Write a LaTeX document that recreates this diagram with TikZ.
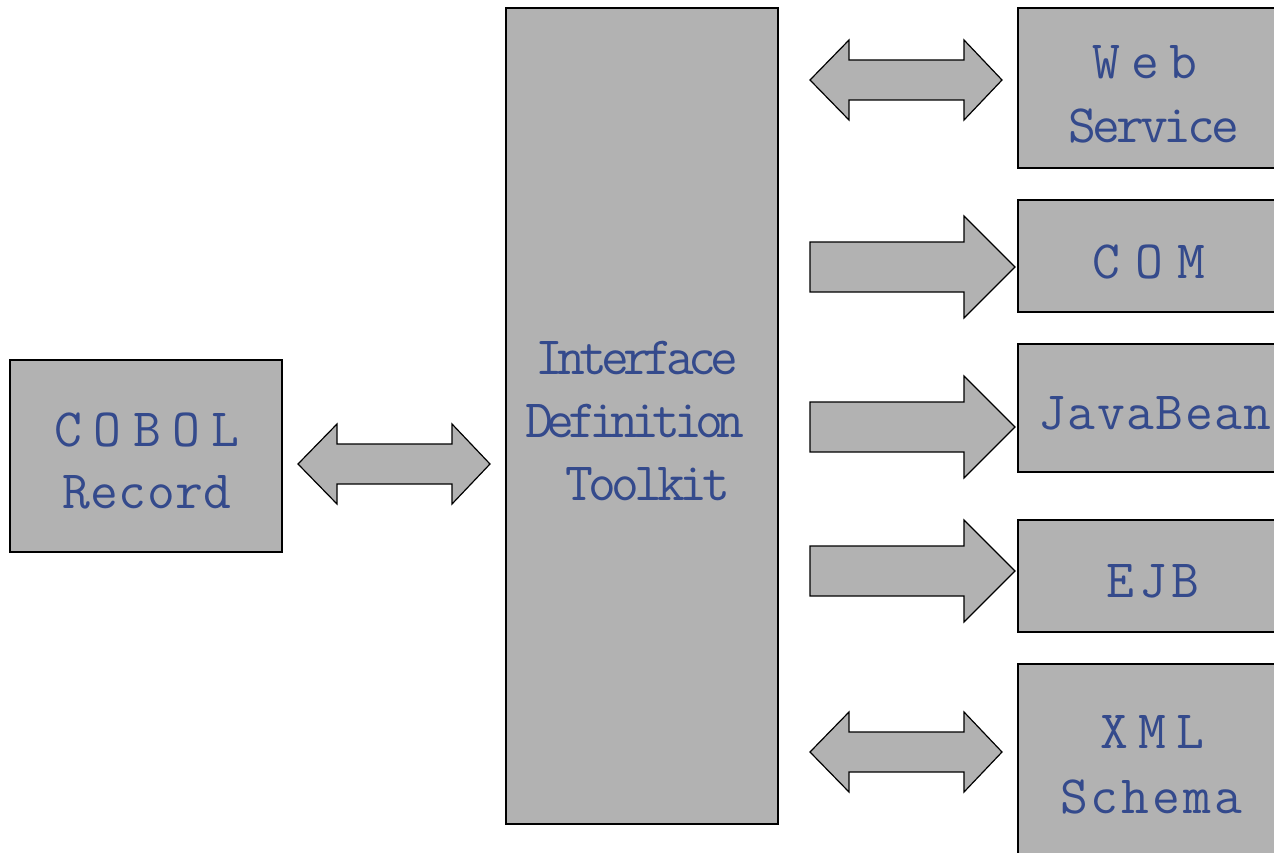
\documentclass[tikz,border=0pt]{standalone}
\usepackage{fontspec}
\definecolor{boxgray}{RGB}{178,178,178}
\definecolor{txtblue}{RGB}{52,74,140}
\makeatletter
\newcommand\trk[2]{\def\trk@k{#1}\trk@go#2\@nil}
\def\trk@go#1{\ifx#1\@nil\unkern\else #1\kern\trk@k\expandafter\trk@go\fi}
\makeatother
\newcommand\dblarrow[3]{% xl, xr, center y
  \draw[blockarrow] (#1,#3) -- (#1+39,#3-40) -- (#1+39,#3-20) -- (#2-38,#3-20) -- (#2-38,#3-40)
    -- (#2,#3) -- (#2-38,#3+40) -- (#2-38,#3+20) -- (#1+39,#3+20) -- (#1+39,#3+40) -- cycle;}
\newcommand\sglarrow[1]{% center y
  \draw[blockarrow] (810,#1-25) -- (964,#1-25) -- (964,#1-51) -- (1015,#1) -- (964,#1+51)
    -- (964,#1+25) -- (810,#1+25) -- cycle;}
\tikzset{
  box/.style={draw=black, line width=1.2pt, fill=boxgray, inner sep=0pt},
  blockarrow/.style={draw=black, line width=1.2pt, fill=boxgray, line join=miter},
  lbl/.style={anchor=base, inner sep=0pt, text=txtblue, font=\ttfamily\fontsize{54}{64}\selectfont}
}
\begin{document}
\begin{tikzpicture}[x=1pt,y=-1pt]
\useasboundingbox (0,0) rectangle (1274,853);
\clip (0,0) rectangle (1274,853);
% boxes
\node[box, minimum width=272pt, minimum height=192pt] (cobol) at (146,456) {};
\node[box, minimum width=272pt, minimum height=816pt] (idt) at (642,416) {};
\node[box, minimum width=268pt, minimum height=160pt] (web) at (1152,88) {};
\node[box, minimum width=268pt, minimum height=112pt] (com) at (1152,256) {};
\node[box, minimum width=268pt, minimum height=128pt] (jb) at (1152,408) {};
\node[box, minimum width=268pt, minimum height=112pt] (ejb) at (1152,576) {};
\node[box, minimum width=268pt, minimum height=220pt] (xml) at (1152,774) {};
% labels
\node[lbl] (cobol1) at (147,446) {\trk{11.4pt}{COBOL}};
\node[lbl] (cobol2) at (147,508) {\trk{0.4pt}{Record}};
\node[lbl] (idt1) at (637,374) {\trk{-6pt}{Interface}};
\node[lbl] (idt2) at (635,437) {\trk{-6.6pt}{Definition}};
\node[lbl] (idt3) at (648,500) {\trk{-4.9pt}{Toolkit}};
\node[lbl] (web1) at (1145,79) {\trk{10.6pt}{Web}};
\node[lbl] (web2) at (1154,143) {\trk{-4.1pt}{Service}};
\node[lbl] (com1) at (1149,278) {\trk{14.6pt}{COM}};
\node[lbl] (jb1) at (1155,429) {\trk{1.5pt}{JavaBean}};
\node[lbl] (ejb1) at (1153,597) {\trk{5.1pt}{EJB}};
\node[lbl] (xml1) at (1152,748) {\trk{10.1pt}{XML}};
\node[lbl] (xml2) at (1151,813) {\trk{3pt}{Schema}};
% arrows
\dblarrow{298}{490}{464}
\dblarrow{810}{1002}{80}
\dblarrow{810}{1002}{752}
\sglarrow{267}
\sglarrow{427}
\sglarrow{571}
\end{tikzpicture}
\end{document}
